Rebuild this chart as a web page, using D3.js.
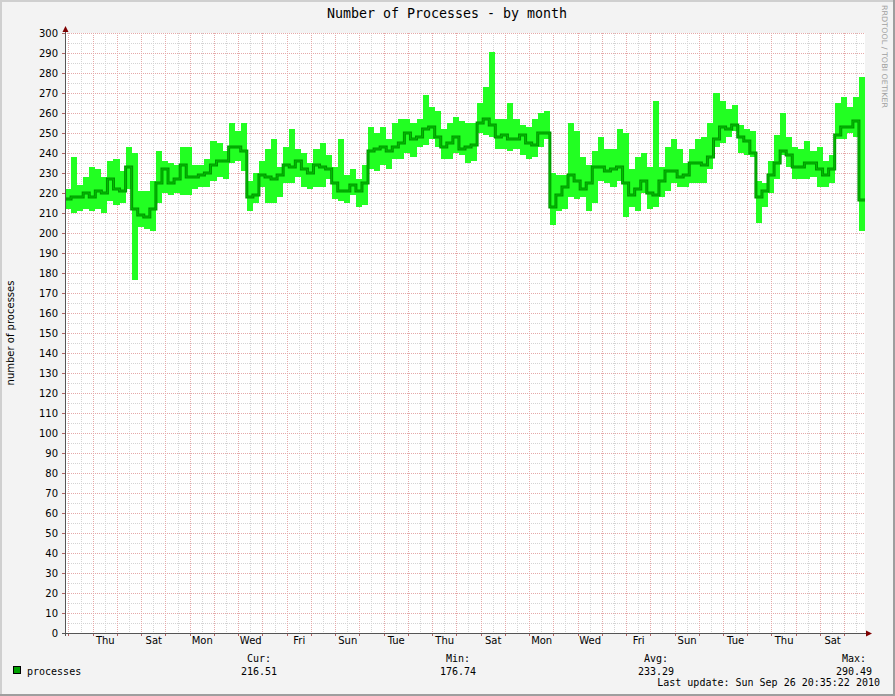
<!DOCTYPE html>
<html>
<head>
<meta charset="utf-8">
<script src="https://cdn.jsdelivr.net/npm/d3@7/dist/d3.min.js"></script>
<style>
  body { margin: 0; background: #fff; }
  svg { display: block; }
</style>
</head>
<body>
<div id="chart"></div>
<script>
// values, one per 6-hour step
const title = "Number of Processes - by month";
const yLabel = "number of processes";
const seriesName = "processes";
const endTime = Date.UTC(2010, 8, 26, 20, 35, 22);
const spanDays = 33;
const stepHours = 6;

const avgValues = [
  217, 218, 218, 220, 218, 221, 220, 227, 222, 221,
  233, 212, 209, 208, 212, 225, 232, 225, 227, 234,
  228, 228, 229, 230, 234, 236, 236, 243, 243, 241,
  218, 219, 229, 228, 227, 229, 234, 233, 236, 232,
  230, 234, 233, 232, 225, 221, 221, 224, 221, 225,
  241, 242, 243, 241, 243, 245, 250, 247, 248, 252,
  253, 248, 243, 245, 248, 242, 243, 244, 255, 257,
  254, 248, 249, 247, 247, 249, 245, 244, 250, 250,
  213, 219, 223, 229, 226, 222, 225, 233, 233, 231,
  232, 233, 225, 219, 222, 226, 220, 219, 226, 231,
  231, 228, 229, 235, 235, 234, 238, 247, 253, 252,
  254, 248, 246, 240, 218, 221, 229, 235, 241, 239,
  233, 233, 235, 235, 232, 229, 232, 249, 253, 253,
  256, 216.5
];
const maxValues = [
  222, 238, 224, 228, 233, 232, 228, 236, 237, 231,
  243, 240, 221, 221, 226, 241, 236, 235, 234, 243,
  243, 234, 234, 237, 246, 245, 241, 255, 251, 255,
  226, 230, 236, 242, 247, 233, 243, 252, 242, 240,
  235, 242, 245, 239, 233, 247, 229, 232, 227, 234,
  253, 250, 253, 247, 255, 257, 257, 255, 257, 269,
  263, 261, 252, 255, 258, 256, 255, 255, 265, 273,
  290.5, 257, 257, 265, 257, 254, 253, 257, 260, 261,
  230, 229, 229, 255, 251, 238, 234, 241, 248, 242,
  242, 252, 250, 232, 238, 240, 233, 266, 233, 243,
  247, 242, 235, 242, 247, 248, 255, 270, 266, 262,
  264, 254, 252, 251, 226, 225, 236, 249, 260, 248,
  243, 242, 246, 241, 243, 236, 239, 265, 268, 263,
  268, 278
];
const minValues = [
  212, 210, 211, 212, 211, 212, 210, 216, 214, 215,
  222, 176.7, 203, 202, 201, 215, 220, 219, 220, 219,
  219, 222, 223, 223, 226, 228, 227, 235, 236, 231,
  211, 215, 223, 215, 215, 218, 225, 225, 228, 223,
  222, 223, 223, 227, 217, 216, 215, 219, 213, 214,
  232, 231, 234, 232, 237, 237, 240, 238, 243, 244,
  247, 243, 237, 237, 240, 239, 235, 236, 250, 249,
  248, 242, 242, 241, 242, 239, 237, 238, 243, 247,
  204, 211, 212, 218, 217, 218, 211, 215, 226, 225,
  223, 226, 208, 213, 211, 220, 212, 213, 218, 221,
  225, 223, 223, 225, 225, 225, 232, 243, 245, 248,
  251, 240, 239, 238, 205, 213, 220, 227, 239, 233,
  227, 227, 227, 228, 223, 223, 225, 247, 247, 250,
  248, 201
];

const statLabels = ["Cur:", "Min:", "Avg:", "Max:"];
const statValues = ["216.51", "176.74", "233.29", "290.49"];
const lastUpdate = "Last update: Sun Sep 26 20:35:22 2010";
const credit = "RRDTOOL / TOBI OETIKER";

const W = 895, H = 696;
const plot = { left: 65, right: 865, top: 33, bottom: 633 };

const svg = d3.select("#chart").append("svg")
  .attr("width", W).attr("height", H);

// canvas + 3d border
svg.append("rect").attr("width", W).attr("height", H).attr("fill", "#f3f3f3");
svg.append("rect").attr("x", 0).attr("y", 0).attr("width", W).attr("height", 2).attr("fill", "#cfcfcf");
svg.append("rect").attr("x", 0).attr("y", 0).attr("width", 2).attr("height", H).attr("fill", "#cfcfcf");
svg.append("rect").attr("x", 0).attr("y", H - 2).attr("width", W).attr("height", 2).attr("fill", "#9e9e9e");
svg.append("rect").attr("x", W - 2).attr("y", 0).attr("width", 2).attr("height", H).attr("fill", "#9e9e9e");

svg.append("rect")
  .attr("x", plot.left).attr("y", plot.top)
  .attr("width", plot.right - plot.left).attr("height", plot.bottom - plot.top)
  .attr("fill", "#fff");

const startTime = endTime - spanDays * 864e5;
const x = d3.scaleUtc().domain([startTime, endTime]).range([plot.left, plot.right]);
const y = d3.scaleLinear().domain([0, 300]).range([plot.bottom, plot.top]);

const points = avgValues.map((v, i) => ({
  t: startTime + i * stepHours * 36e5,
  avg: v, min: minValues[i], max: maxValues[i]
}));
// close the last step at the end of the graph
points.push(Object.assign({}, points[points.length - 1], { t: endTime }));

// grid
const grid = svg.append("g").attr("shape-rendering", "crispEdges");
const minorY = y.ticks(60).filter(v => v % 10 !== 0);
const majorY = y.ticks(30);
const midnights = d3.utcDay.range(new Date(startTime), new Date(endTime));
const noons = d3.utcHour.every(12).range(new Date(startTime), new Date(endTime))
  .filter(d => d.getUTCHours() === 12);

grid.selectAll(".vminor").data(noons).join("line")
  .attr("x1", d => Math.round(x(d)) + 0.5).attr("x2", d => Math.round(x(d)) + 0.5)
  .attr("y1", plot.top).attr("y2", plot.bottom)
  .attr("stroke", "#d4d4d4").attr("stroke-dasharray", "1,1");
grid.selectAll(".hminor").data(minorY).join("line")
  .attr("x1", plot.left).attr("x2", plot.right)
  .attr("y1", d => Math.round(y(d)) + 0.5).attr("y2", d => Math.round(y(d)) + 0.5)
  .attr("stroke", "#d4d4d4").attr("stroke-dasharray", "1,1");
grid.selectAll(".vmajor").data(midnights).join("line")
  .attr("x1", d => Math.round(x(d)) + 0.5).attr("x2", d => Math.round(x(d)) + 0.5)
  .attr("y1", plot.top).attr("y2", plot.bottom + 2)
  .attr("stroke", "#e5a9a9").attr("stroke-dasharray", "1,1");
grid.selectAll(".hmajor").data(majorY).join("line")
  .attr("x1", plot.left - 2).attr("x2", plot.right)
  .attr("y1", d => Math.round(y(d)) + 0.5).attr("y2", d => Math.round(y(d)) + 0.5)
  .attr("stroke", "#e5a9a9").attr("stroke-dasharray", "1,1");

// y axis ticks (little stubs left of the axis)
grid.selectAll(".ytick").data(majorY).join("line")
  .attr("x1", plot.left - 3).attr("x2", plot.left)
  .attr("y1", d => Math.round(y(d)) + 0.5).attr("y2", d => Math.round(y(d)) + 0.5)
  .attr("stroke", "#b06060");
grid.selectAll(".xtick").data(midnights).join("line")
  .attr("x1", d => Math.round(x(d)) + 0.5).attr("x2", d => Math.round(x(d)) + 0.5)
  .attr("y1", plot.bottom).attr("y2", plot.bottom + 3)
  .attr("stroke", "#b06060");

// min/max band and average line
const band = d3.area()
  .x(d => x(d.t)).y0(d => y(d.min)).y1(d => y(d.max))
  .curve(d3.curveStepAfter);
svg.append("path").datum(points)
  .attr("d", band).attr("fill", "#22ff22").attr("shape-rendering", "crispEdges");

const line = d3.line().x(d => x(d.t)).y(d => y(d.avg)).curve(d3.curveStepAfter);
svg.append("path").datum(points)
  .attr("d", line).attr("fill", "none")
  .attr("stroke", "#009600").attr("stroke-width", 3);
svg.append("path").datum(points)
  .attr("d", line).attr("fill", "none")
  .attr("stroke", "#00c000").attr("stroke-width", 1);

// axes
const yAxis = d3.axisLeft(y).tickValues(majorY).tickSize(0).tickPadding(7).tickFormat(d3.format("d"));
const gy = svg.append("g").attr("transform", `translate(${plot.left},0)`).call(yAxis);
gy.select(".domain").remove();
gy.selectAll("text").attr("font-family", "DejaVu Sans").attr("font-size", 10).attr("fill", "#000");

const labelDays = d3.utcDay.range(new Date(Date.UTC(2010, 7, 26)), new Date(endTime), 2)
  .map(d => d3.utcHour.offset(d, 12));
const xAxis = d3.axisBottom(x).tickValues(labelDays).tickSize(0).tickPadding(4)
  .tickFormat(d3.utcFormat("%a"));
const gx = svg.append("g").attr("transform", `translate(0,${plot.bottom})`).call(xAxis);
gx.select(".domain").remove();
gx.selectAll("text").attr("font-family", "DejaVu Sans").attr("font-size", 10).attr("fill", "#000");

svg.append("line")
  .attr("x1", plot.left + 0.5).attr("x2", plot.left + 0.5)
  .attr("y1", plot.bottom + 3).attr("y2", plot.top - 4)
  .attr("stroke", "#555").attr("shape-rendering", "crispEdges");
svg.append("line")
  .attr("x1", plot.left - 3).attr("x2", plot.right + 4)
  .attr("y1", plot.bottom + 0.5).attr("y2", plot.bottom + 0.5)
  .attr("stroke", "#555").attr("shape-rendering", "crispEdges");
svg.append("path")
  .attr("d", `M${plot.left - 2.5},${plot.top - 1}L${plot.left + 3.5},${plot.top - 1}L${plot.left + 0.5},${plot.top - 7}Z`)
  .attr("fill", "#7f0000");
svg.append("path")
  .attr("d", `M${plot.right + 1},${plot.bottom - 2.5}L${plot.right + 1},${plot.bottom + 3.5}L${plot.right + 7},${plot.bottom + 0.5}Z`)
  .attr("fill", "#7f0000");

// title and side texts
svg.append("text")
  .attr("x", 447).attr("y", 18).attr("text-anchor", "middle")
  .attr("font-family", "DejaVu Sans Mono").attr("font-size", 13.3)
  .text(title);
svg.append("text")
  .attr("transform", `translate(14,${(plot.top + plot.bottom) / 2}) rotate(-90)`)
  .attr("text-anchor", "middle")
  .attr("font-family", "DejaVu Sans").attr("font-size", 10)
  .text(yLabel);
svg.append("text")
  .attr("transform", "translate(882,5) rotate(90)")
  .attr("font-family", "DejaVu Sans").attr("font-size", 7.5)
  .attr("fill", "#a0a0a0")
  .attr("textLength", 103).attr("lengthAdjust", "spacingAndGlyphs")
  .text(credit);

// legend
const mono = "DejaVu Sans Mono";
svg.append("rect")
  .attr("x", 13.5).attr("y", 666.5).attr("width", 7).attr("height", 7)
  .attr("fill", "#00a000").attr("stroke", "#000");
svg.append("text").attr("x", 27).attr("y", 674.5)
  .attr("font-family", mono).attr("font-size", 10).text(seriesName);

const statCenters = [259, 458, 656, 854];
statLabels.forEach((s, i) => {
  svg.append("text").attr("x", statCenters[i]).attr("y", 662).attr("text-anchor", "middle")
    .attr("font-family", mono).attr("font-size", 10).text(s);
  svg.append("text").attr("x", statCenters[i]).attr("y", 674.5).attr("text-anchor", "middle")
    .attr("font-family", mono).attr("font-size", 10).text(statValues[i]);
});
svg.append("text").attr("x", 880).attr("y", 685.5).attr("text-anchor", "end")
  .attr("font-family", mono).attr("font-size", 10).text(lastUpdate);
</script>
</body>
</html>
